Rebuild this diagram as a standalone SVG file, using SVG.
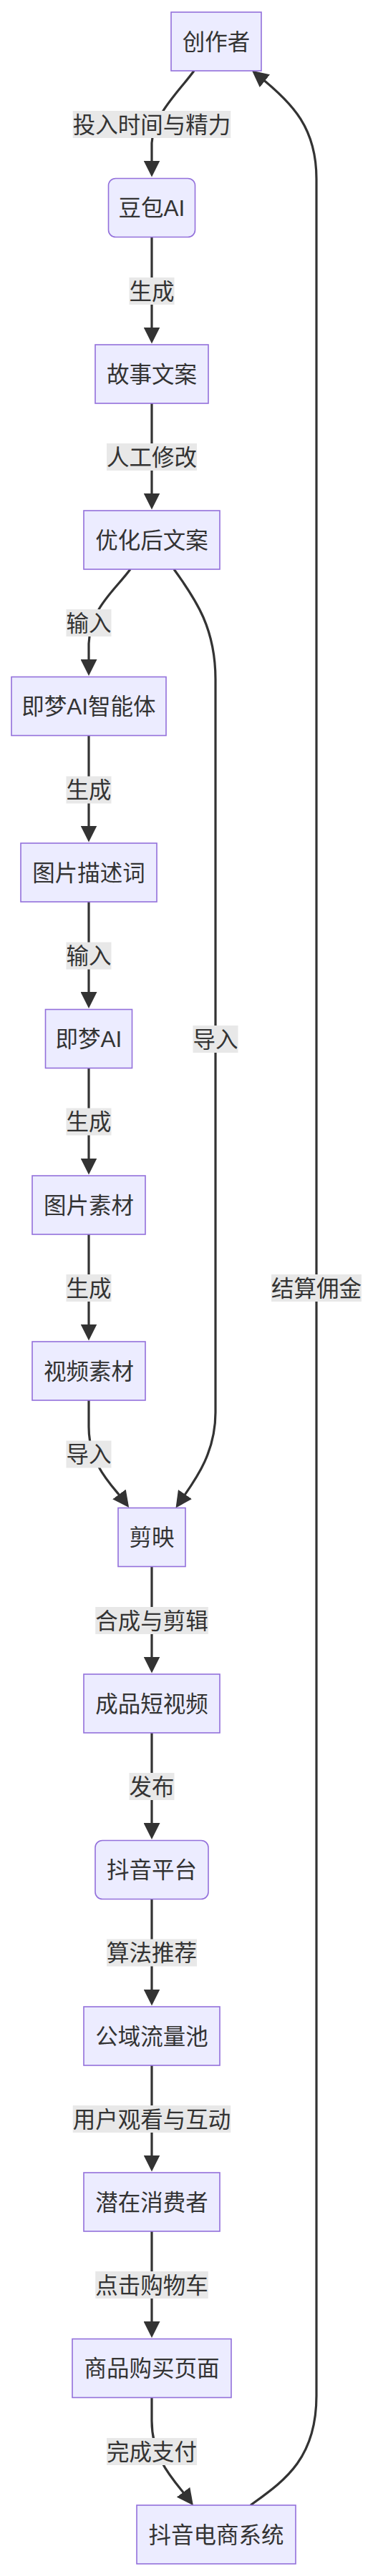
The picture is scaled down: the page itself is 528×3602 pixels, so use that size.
<svg xmlns="http://www.w3.org/2000/svg" width="528" height="3602" viewBox="0 0 528 3602">
<style>
.node rect{fill:#ECECFF;stroke:#9370DB;stroke-width:1.6}
.edge{fill:none;stroke:#333;stroke-width:3.2}
text{font-family:"Liberation Sans","Noto Sans CJK SC",sans-serif;font-size:31.5px;fill:#333;text-anchor:middle}
.lbl rect{fill:#e8e8e8}
</style>
<defs>
<marker id="arr" viewBox="0 0 10 10" refX="5" refY="5" markerWidth="23" markerHeight="23" markerUnits="userSpaceOnUse" orient="auto">
<path d="M0,0 L10,5 L0,10 z" fill="#333"/>
</marker>
</defs>
<rect width="528" height="3602" fill="#fff"/>
<g id="connectors">
<path class="edge" marker-end="url(#arr)" d="M271,99 C250,128 214,160 212,200 L212,236"/>
<path class="edge" marker-end="url(#arr)" d="M212,331.5 L212,469"/>
<path class="edge" marker-end="url(#arr)" d="M212,564 L212,701"/>
<path class="edge" marker-end="url(#arr)" d="M182,796 C160,826 126,850 124,900 L124,933.5"/>
<path class="edge" marker-end="url(#arr)" d="M243,796 C275,840 301,880 301,950 L301,1975 C301,2035 269,2074 252,2099"/>
<path class="edge" marker-end="url(#arr)" d="M124,1028.5 L124,1166"/>
<path class="edge" marker-end="url(#arr)" d="M124,1261 L124,1398.5"/>
<path class="edge" marker-end="url(#arr)" d="M124,1493.5 L124,1631"/>
<path class="edge" marker-end="url(#arr)" d="M124,1726 L124,1863"/>
<path class="edge" marker-end="url(#arr)" d="M124,1958 L124,1995 C124,2050 158.5,2078.7 173.3,2098.7"/>
<path class="edge" marker-end="url(#arr)" d="M212,2190.5 L212,2328"/>
<path class="edge" marker-end="url(#arr)" d="M212,2423 L212,2560.5"/>
<path class="edge" marker-end="url(#arr)" d="M212,2655.5 L212,2793"/>
<path class="edge" marker-end="url(#arr)" d="M212,2888 L212,3025"/>
<path class="edge" marker-end="url(#arr)" d="M212,3120 L212,3257.5"/>
<path class="edge" marker-end="url(#arr)" d="M212,3352.5 L212,3385 C212,3440 245,3470 263,3494"/>
<path class="edge" marker-end="url(#arr)" d="M350,3503 C395,3470 442,3440 442,3350 L442,250 C442,180 410,145 361,106"/>
</g>
<g id="edge-labels">
<g class="lbl"><rect x="101.75" y="155" width="220.5" height="38"/><text x="212" y="185.5">投入时间与精力</text></g>
<g class="lbl"><rect x="180.5" y="388" width="63" height="38"/><text x="212" y="418.5">生成</text></g>
<g class="lbl"><rect x="149" y="620" width="126" height="38"/><text x="212" y="650.5">人工修改</text></g>
<g class="lbl"><rect x="92.5" y="852" width="63" height="38"/><text x="124" y="882.5">输入</text></g>
<g class="lbl"><rect x="92.5" y="1085.5" width="63" height="38"/><text x="124" y="1116">生成</text></g>
<g class="lbl"><rect x="92.5" y="1317.5" width="63" height="38"/><text x="124" y="1348">输入</text></g>
<g class="lbl"><rect x="92.5" y="1549.5" width="63" height="38"/><text x="124" y="1580">生成</text></g>
<g class="lbl"><rect x="92.5" y="1782" width="63" height="38"/><text x="124" y="1812.5">生成</text></g>
<g class="lbl"><rect x="92.5" y="2014.5" width="63" height="38"/><text x="124" y="2045">导入</text></g>
<g class="lbl"><rect x="269.5" y="1434" width="63" height="38"/><text x="301" y="1464.5">导入</text></g>
<g class="lbl"><rect x="379" y="1782" width="126" height="38"/><text x="442" y="1812.5">结算佣金</text></g>
<g class="lbl"><rect x="133.25" y="2247" width="157.5" height="38"/><text x="212" y="2277.5">合成与剪辑</text></g>
<g class="lbl"><rect x="180.5" y="2479" width="63" height="38"/><text x="212" y="2509.5">发布</text></g>
<g class="lbl"><rect x="149" y="2711.5" width="126" height="38"/><text x="212" y="2742">算法推荐</text></g>
<g class="lbl"><rect x="101.75" y="2944" width="220.5" height="38"/><text x="212" y="2974.5">用户观看与互动</text></g>
<g class="lbl"><rect x="133.25" y="3176" width="157.5" height="38"/><text x="212" y="3206.5">点击购物车</text></g>
<g class="lbl"><rect x="149" y="3409" width="126" height="38"/><text x="212" y="3439.5">完成支付</text></g>
</g>
<g id="n0" class="node"><rect x="239" y="17" width="126" height="82"/><text x="302" y="69.5">创作者</text></g>
<g id="n1" class="node"><rect x="151.5" y="249.5" width="121" height="82" rx="10" ry="10"/><text x="212" y="302">豆包AI</text></g>
<g id="n2" class="node"><rect x="133" y="482" width="158" height="82"/><text x="212" y="534.5">故事文案</text></g>
<g id="n3" class="node"><rect x="117" y="714" width="190" height="82"/><text x="212" y="766.5">优化后文案</text></g>
<g id="n4" class="node"><rect x="16" y="946.5" width="216" height="82"/><text x="124" y="999">即梦AI智能体</text></g>
<g id="n5" class="node"><rect x="29" y="1179" width="190" height="82"/><text x="124" y="1231.5">图片描述词</text></g>
<g id="n6" class="node"><rect x="63.5" y="1411.5" width="121" height="82"/><text x="124" y="1464">即梦AI</text></g>
<g id="n7" class="node"><rect x="45" y="1644" width="158" height="82"/><text x="124" y="1696.5">图片素材</text></g>
<g id="n8" class="node"><rect x="45" y="1876" width="158" height="82"/><text x="124" y="1928.5">视频素材</text></g>
<g id="n9" class="node"><rect x="165" y="2108.5" width="94" height="82"/><text x="212" y="2161">剪映</text></g>
<g id="n10" class="node"><rect x="117" y="2341" width="190" height="82"/><text x="212" y="2393.5">成品短视频</text></g>
<g id="n11" class="node"><rect x="133" y="2573.5" width="158" height="82" rx="10" ry="10"/><text x="212" y="2626">抖音平台</text></g>
<g id="n12" class="node"><rect x="117" y="2806" width="190" height="82"/><text x="212" y="2858.5">公域流量池</text></g>
<g id="n13" class="node"><rect x="117" y="3038" width="190" height="82"/><text x="212" y="3090.5">潜在消费者</text></g>
<g id="n14" class="node"><rect x="101" y="3270.5" width="222" height="82"/><text x="212" y="3323">商品购买页面</text></g>
<g id="n15" class="node"><rect x="191" y="3503" width="222" height="82"/><text x="302" y="3555.5">抖音电商系统</text></g>
</svg>
